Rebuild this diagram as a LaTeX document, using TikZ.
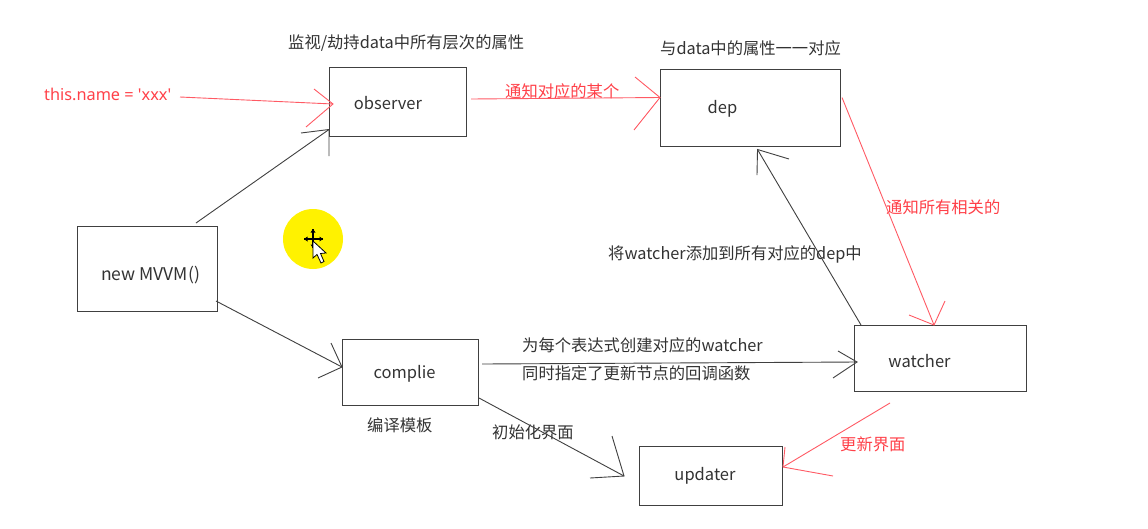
\documentclass[tikz,border=0pt]{standalone}
\usepackage{fontspec}
\setmainfont{Noto Sans CJK SC}
\newfontfamily\latinf{Noto Sans}
\definecolor{ink}{HTML}{404040}
\definecolor{txt}{HTML}{333333}
\definecolor{redl}{HTML}{FF5A64}
\definecolor{redt}{HTML}{FF4048}
\tikzset{
  boxn/.style={draw=ink,line width=1pt,inner sep=0pt,anchor=north west,fill=white},
  boxtext/.style={text=txt,font=\fontsize{16.5}{18}\selectfont,inner sep=0pt},
  captxt/.style={text=txt,font=\fontsize{16.3}{18}\selectfont,inner sep=0pt,anchor=west},
  capred/.style={text=redt,font=\fontsize{16.3}{18}\selectfont,inner sep=0pt,anchor=west},
  blk/.style={draw=ink,line width=0.9pt},
  rd/.style={draw=redl,line width=0.9pt}
}
\begin{document}
\begin{tikzpicture}[x=1pt,y=-1pt]
\useasboundingbox (0,0) rectangle (1148,528);
\fill[white] (0,0) rectangle (1148,528);
% cursor highlight
\fill[yellow] (313,239) circle (30);
% boxes
\node[boxn,minimum width=137pt,minimum height=69pt,label={[boxtext,xshift=-10pt,yshift=-2pt]center:observer}] (obs) at (329,66.5) {};
\node[boxn,minimum width=180pt,minimum height=77pt,label={[boxtext,xshift=-28pt,yshift=-1pt]center:dep}] (dep) at (660,68.5) {};
\node[boxn,minimum width=140pt,minimum height=85pt,label={[boxtext,font=\fontsize{17.5}{18}\selectfont,xshift=3pt,yshift=-6pt]center:new MVVM()}] (mvvm) at (77,226) {};
\node[boxn,minimum width=136pt,minimum height=66pt,label={[boxtext,xshift=-6pt,yshift=-1pt]center:complie}] (comp) at (342,339) {};
\node[boxn,minimum width=172pt,minimum height=66pt,label={[boxtext,xshift=-21pt,yshift=-3pt]center:watcher}] (wat) at (854,325) {};
\node[boxn,minimum width=143pt,minimum height=59pt,label={[boxtext,xshift=-6pt,yshift=0pt]center:updater}] (upd) at (639,446) {};
% captions
\node[captxt] (c1) at (288,43) {监视/劫持data中所有层次的属性};
\node[captxt] (c2) at (660,48) {与data中的属性一一对应};
\node[captxt] (c3) at (608,254) {将watcher添加到所有对应的dep中};
\node[captxt] (c4) at (522,345) {为每个表达式创建对应的watcher};
\node[captxt] (c5) at (522,373) {同时指定了更新节点的回调函数};
\node[captxt] (c6) at (367,425) {编译模板};
\node[captxt] (c7) at (492,432) {初始化界面};
\node[capred] (this) at (44,94) {\latinf this.name = \symbol{39}xxx\symbol{39}};
\node[capred] (r1) at (505,91) {通知对应的某个};
\node[capred] (r2) at (886,207) {通知所有相关的};
\node[capred] (r3) at (840,444) {更新界面};
% connector ends
\coordinate (a1) at (180,97);
\coordinate (a2) at ([shift={(4,37.5)}]obs.north west);
\coordinate (b1) at ([shift={(119,-3)}]mvvm.north west);
\coordinate (b2) at ([shift={(0,-7)}]obs.south west);
\coordinate (c1a) at ([shift={(4,-37.5)}]obs.south east);
\coordinate (c2a) at ([shift={(0,29)}]dep.north west);
\coordinate (d1) at ([shift={(1,29)}]dep.north east);
\coordinate (d2) at ([shift={(80,0)}]wat.north west);
\coordinate (e1) at ([shift={(7,0)}]wat.north west);
\coordinate (e2) at ([shift={(7,3)}]dep.south);
\coordinate (f1) at ([shift={(3,25)}]comp.north east);
\coordinate (f2) at ([shift={(3,37)}]wat.north west);
\coordinate (g1) at ([shift={(0,-8)}]comp.south east);
\coordinate (g2) at ([shift={(-15,30)}]upd.north west);
\coordinate (h1) at ([shift={(-2,-11)}]mvvm.south east);
\coordinate (h2) at ([shift={(0,28)}]comp.north west);
\coordinate (i1) at ([shift={(36,11)}]wat.south west);
\coordinate (i2) at ([shift={(0,21)}]upd.north east);
% black connectors
\draw[blk] (b1) -- (b2);
\draw[blk] (301,133) -- (b2) -- (329,156);
\draw[blk] (e1) -- (e2);
\draw[blk] (789,159) -- (e2) -- (757,175);
\draw[blk] (f1) -- (f2);
\draw[blk] (838,351) -- (f2) -- (833,378);
\draw[blk] (g1) -- (g2);
\draw[blk] (612,436) -- (g2) -- (590,478);
\draw[blk] (h1) -- (h2);
\draw[blk] (331,343) -- (h2) -- (318,378);
% red connectors
\draw[rd] (a1) -- (a2);
\draw[rd] (314,89) -- (a2) -- (306,127);
\draw[rd] (c1a) -- (c2a);
\draw[rd] (635,77) -- (c2a) -- (634,130);
\draw[rd] (d1) -- (d2);
\draw[rd] (909,315) -- (d2) -- (945,301);
\draw[rd] (i1) -- (i2);
\draw[rd] (785,447) -- (i2) -- (833,476);
% cursor glyph
\draw[black,line width=1.2pt] (313,229) -- (313,248) (304,239) -- (323,239);
\fill[black] (313,229) -- (310.5,232.5) -- (315.5,232.5) -- cycle
  (313,248) -- (310.5,244.5) -- (315.5,244.5) -- cycle
  (304,239) -- (307.5,236.5) -- (307.5,241.5) -- cycle
  (323,239) -- (319.5,236.5) -- (319.5,241.5) -- cycle;
\filldraw[fill=white,draw=black,line width=0.8pt] (313,241) -- (313,258) -- (317,254.5) -- (321,263) -- (324,261.5) -- (320.5,253.5) -- (326,253) -- cycle;
\end{tikzpicture}
\end{document}
